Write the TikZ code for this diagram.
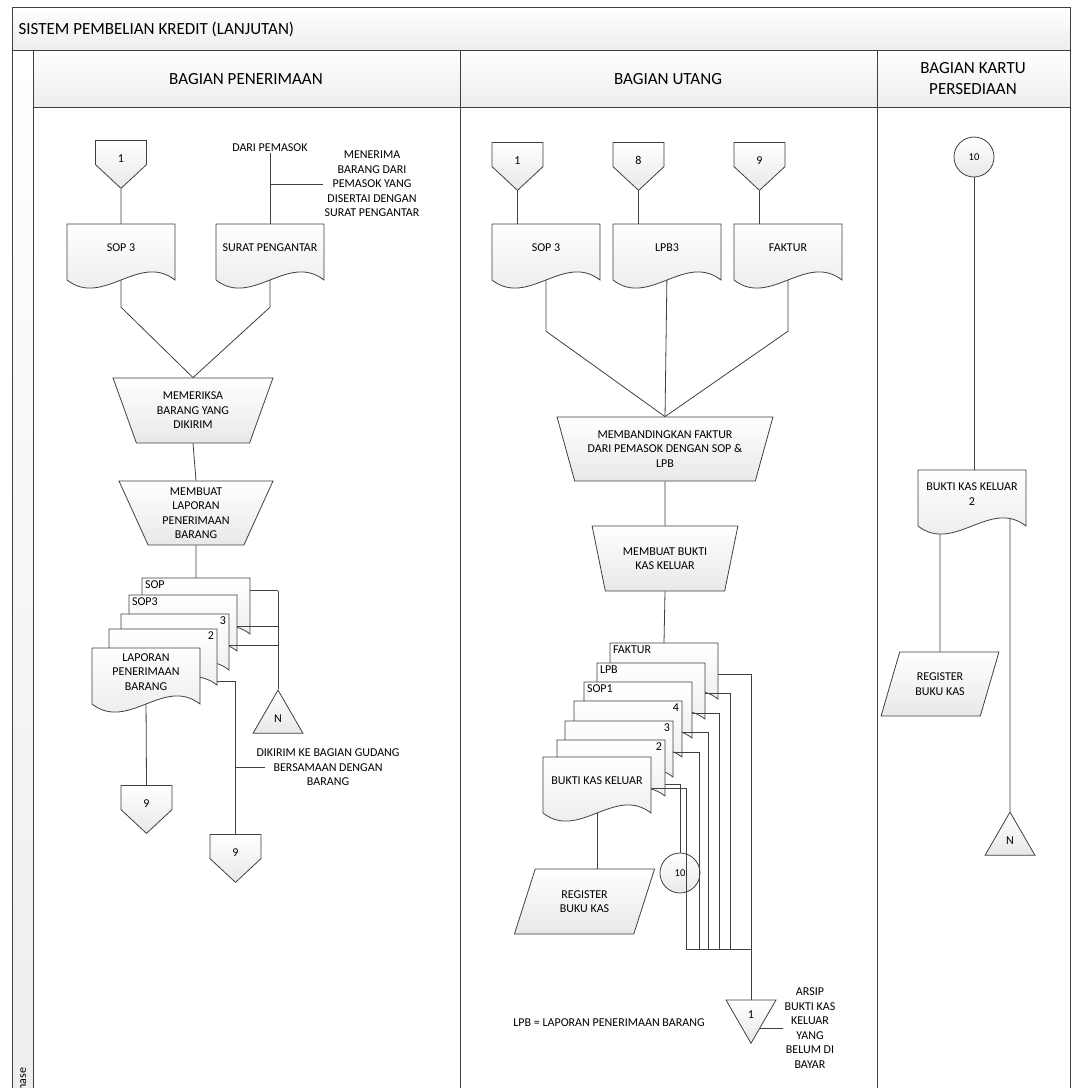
\documentclass[tikz,border=0pt]{standalone}
\usepackage{fontspec}
\setmainfont{Carlito}
\usetikzlibrary{shapes.geometric,shapes.symbols,calc}
\definecolor{lineclr}{HTML}{404040}
\pgfdeclarelayer{bg}
\pgfsetlayers{bg,main}
\newcommand{\bodyfont}{\fontsize{12}{14.5}\selectfont}
\newcommand{\headfont}{\fontsize{17}{21}\selectfont}
\tikzset{
  wire/.style={draw=lineclr, line width=0.8pt},
  softfill/.style={top color=white, bottom color=black!9},
  band/.style={wire, top color=white, bottom color=black!7},
  docfill/.style={wire, softfill},
  doctext/.style={inner sep=1pt, minimum width=108pt, minimum height=48pt, align=center, font=\bodyfont},
  proc/.style={trapezium, shape border rotate=180, trapezium left angle=68.5, trapezium right angle=68.5, trapezium stretches=true, wire, softfill, align=center, font=\bodyfont, inner sep=1pt},
  io/.style={trapezium, trapezium stretches=true, wire, softfill, align=center, font=\bodyfont, inner sep=1pt},
  offpage/.style={signal, signal to=south, signal from=nowhere, signal pointer angle=94, wire, softfill, minimum width=51pt, minimum height=27pt, inner sep=0pt, text height=19pt, text depth=0pt, font=\bodyfont},
  tri/.style={regular polygon, regular polygon sides=3, wire, softfill, minimum size=57.7pt, inner sep=0pt, font=\bodyfont},
  onpage/.style={circle, wire, softfill, minimum size=40pt, inner sep=0pt, font=\fontsize{10.5}{12}\selectfont},
  remark/.style={align=center, font=\bodyfont, inner sep=1pt},
  stacklbl/.style={font=\bodyfont, inner sep=3pt},
}
\newcommand{\docshape}[5][]{%
  \path[docfill] (#3,#4) -- (#3+108,#4) -- (#3+108,#4+56)
    .. controls (#3+72,#4+28) and (#3+36,#4+84) .. (#3,#4+56) -- cycle;
  \node[doctext,#1] (#2) at (#3+54,#4+24) {#5};
}
\begin{document}
\begin{tikzpicture}
[x=1pt,y=-1pt]
\useasboundingbox (0,0) rectangle (1076,1088);
\begin{pgfonlayer}{bg}
\fill[white] (12,7) rectangle (1070,1100);
\path[band] (12,7) rectangle (1070,50);
\path[band] (12,50) rectangle (33,1100);
\path[band] (33,50) rectangle (460,107);
\path[band] (460,50) rectangle (877,107);
\path[band] (877,50) rectangle (1070,107);
\draw[wire] (460,107) -- (460,1100);
\draw[wire] (877,107) -- (877,1100);
\draw[wire] (12,7) rectangle (1070,1100);
\end{pgfonlayer}

\node[anchor=west, font=\headfont] (title) at (15,29) {SISTEM PEMBELIAN KREDIT (LANJUTAN)};
\node[font=\headfont] (hpen) at (246,79) {BAGIAN PENERIMAAN};
\node[font=\headfont] (hut) at (668,79) {BAGIAN UTANG};
\node[font=\headfont, align=center] (hkp) at (973,79) {BAGIAN KARTU\\PERSEDIAAN};
\node[rotate=90, anchor=west, inner sep=0pt, font=\bodyfont] (phase) at (22,1097) {Phase};

% bagian penerimaan
\node[offpage] (c1) at (121,152.5) {1};
\node[remark] (dari) at (270,148) {DARI PEMASOK};
\node[remark] (menerima) at (372,184) {MENERIMA\\BARANG DARI\\PEMASOK YANG\\DISERTAI DENGAN\\SURAT PENGANTAR};
\docshape{s3a}{67}{224}{SOP 3}
\docshape{sp}{216}{224}{SURAT PENGANTAR}
\node[proc, minimum width=160pt, minimum height=65pt] (t1) at (193,410.5) {MEMERIKSA\\BARANG YANG\\DIKIRIM};
\node[proc, minimum width=154pt, minimum height=64pt] (t2) at (196,513) {MEMBUAT\\LAPORAN\\PENERIMAAN\\BARANG};
\docshape[label={[stacklbl,anchor=north west]north west:SOP}]{ka}{142}{578}{}
\docshape[label={[stacklbl,anchor=north west]north west:SOP3}]{kb}{129}{595}{}
\docshape[label={[stacklbl,anchor=north east]north east:3}]{kc}{121}{614}{}
\docshape[label={[stacklbl,anchor=north east]north east:2}]{kd}{109}{629}{}
\docshape{ke}{92}{648}{LAPORAN\\PENERIMAAN\\BARANG}
\node[tri] (tn1) at (278,718.9) {N};
\node[offpage] (c9a) at (146.5,797.5) {9};
\node[offpage] (c9b) at (235.5,846.5) {9};
\node[remark] (dikirim) at (328,767.5) {DIKIRIM KE BAGIAN GUDANG\\BERSAMAAN DENGAN\\BARANG};

% bagian utang
\node[offpage] (d1) at (517.5,154.5) {1};
\node[offpage] (d8) at (638.5,154.5) {8};
\node[offpage] (d9) at (759.5,154.5) {9};
\docshape{u1}{492}{224}{SOP 3}
\docshape{u2}{613}{224}{LPB3}
\docshape{u3}{734}{224}{FAKTUR}
\node[proc, minimum width=216pt, minimum height=64pt] (t3) at (665,449) {MEMBANDINGKAN FAKTUR\\DARI PEMASOK DENGAN SOP \&\\LPB};
\node[proc, minimum width=146pt, minimum height=65pt] (t4) at (665,558.5) {MEMBUAT BUKTI\\KAS KELUAR};
\docshape[label={[stacklbl,anchor=north west]north west:FAKTUR}]{f1}{610}{643}{}
\docshape[label={[stacklbl,anchor=north west]north west:LPB}]{f2}{597}{663}{}
\docshape[label={[stacklbl,anchor=north west]north west:SOP1}]{f3}{584}{682}{}
\docshape[label={[stacklbl,anchor=north east]north east:4}]{f4}{574}{701}{}
\docshape[label={[stacklbl,anchor=north east]north east:3}]{f5}{565}{721}{}
\docshape[label={[stacklbl,anchor=north east]north east:2}]{f6}{557}{740}{}
\docshape{f7}{543}{757}{BUKTI KAS KELUAR}
\node[io, minimum width=141pt, minimum height=65pt, trapezium left angle=66, trapezium right angle=114] (reg2) at (584.5,901.5) {REGISTER\\BUKU KAS};
\node[onpage] (c10a) at (680,873) {10};
\node[tri, regular polygon rotate=180] (arsip) at (751,1014.4) {1};
\node[remark] (arsipnote) at (810,1028) {ARSIP\\BUKTI KAS\\KELUAR\\YANG\\BELUM DI\\BAYAR};
\node[remark] (legend) at (609,1023) {LPB = LAPORAN PENERIMAAN BARANG};

% bagian kartu persediaan
\node[onpage] (c10b) at (974,157) {10};
\docshape{bk}{918}{470}{BUKTI KAS KELUAR\\2}
\node[io, minimum width=118pt, minimum height=64pt, trapezium left angle=64, trapezium right angle=116] (reg3) at (940,684) {REGISTER\\BUKU KAS};
\node[tri] (tn3) at (1010,840.9) {N};

\begin{pgfonlayer}{bg}
\draw[wire] (c1) -- (s3a.north);
\draw[wire] (dari.south) -- (dari.south |- sp.north);
\draw[wire] (dari.south |- menerima.west) -- (menerima.west);
\draw[wire] (s3a.south) -- ++(0,35) -- (t1.north);
\draw[wire] (sp.south) -- ++(0,35) -- (t1.north);
\foreach \from/\to in {t1/t2,t2/ka,t3/t4,t4/f1,ke/c9a}
\draw[wire] (\from.south) -- (\to.north);
\draw[wire] (c9b.north |- dikirim.west) -- ++(29,0);
\foreach \from/\to in {d1/u1,d8/u2,d9/u3}
\draw[wire] (\from) -- (\from |- \to.north);
\draw[wire] (u1.south) -- ++(0,59) -- (t3.north);
\draw[wire] (u2.south) -- (t3.north);
\draw[wire] (u3.south) -- ++(0,59) -- (t3.north);
\draw[wire] (f7.south) -- (f7.south |- reg2);
\draw[wire] (arsip |- arsipnote.west) -- (arsipnote.west);
\draw[wire] (c10b) -- (c10b |- bk.north);
\draw[wire] (reg3 |- bk.south) -- (reg3);
\draw[wire] (tn3 |- bk.south) -- (tn3.north);
\end{pgfonlayer}

\foreach \k/\dy in {ka/13,kb/32,kc/32,kd/53}
\coordinate (\k-p) at ($(\k.north east)+(0,\dy)$);
\foreach \k in {ka,kb,kc}
\draw[wire] (\k-p) -- (\k-p -| tn1.north);
\draw[wire] (ka-p -| tn1.north) -- (tn1.north);
\draw[wire] (kd-p) -| (c9b.north);

\foreach \f/\dy in {f1/32,f2/31,f3/32,f4/32,f5/32,f6/45,f7/32}
\coordinate (\f-p) at ($(\f.north east)+(0,\dy)$);
\draw[wire] (f1-p) -| (arsip.north);
\foreach \f/\x in {f2/730,f3/719,f4/708,f5/699,f7/686} {
\coordinate (\f-b) at (\x,949);
\draw[wire] (\f-p) -| (\f-b);
}
\draw[wire] (f7-b) -- (f7-b -| arsip.north);
\draw[wire] (f6-p) -| (c10a.north);
\end{tikzpicture}
\end{document}
